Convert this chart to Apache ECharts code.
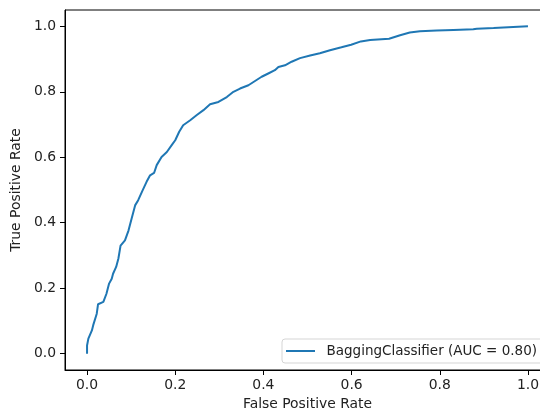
<!DOCTYPE html>
<html>
<head>
<meta charset="utf-8">
<script src="https://cdn.jsdelivr.net/npm/echarts@6/dist/echarts.min.js"></script>
<style>html,body{margin:0;padding:0;background:#fff}#c{width:540px;height:409px}</style>
</head>
<body>
<div id="c"></div>
<script>
const fpr = [0.000,0.000,0.003,0.011,0.014,0.022,0.025,0.037,0.044,0.050,0.056,0.059,0.066,0.071,0.076,0.086,0.094,0.101,0.109,0.116,0.126,0.135,0.143,0.152,0.158,0.169,0.181,0.192,0.200,0.209,0.218,0.234,0.249,0.264,0.279,0.298,0.317,0.332,0.347,0.366,0.381,0.396,0.411,0.426,0.434,0.449,0.464,0.483,0.506,0.528,0.551,0.577,0.599,0.621,0.642,0.685,0.710,0.732,0.755,0.793,0.831,0.876,0.884,0.922,1.000];
const tpr = [0.000,0.025,0.046,0.071,0.087,0.122,0.151,0.158,0.183,0.214,0.229,0.244,0.265,0.290,0.330,0.346,0.376,0.412,0.453,0.469,0.499,0.525,0.545,0.552,0.576,0.601,0.616,0.637,0.652,0.678,0.698,0.713,0.729,0.744,0.762,0.769,0.784,0.800,0.810,0.820,0.833,0.846,0.856,0.866,0.876,0.881,0.892,0.903,0.911,0.918,0.927,0.936,0.944,0.954,0.958,0.962,0.973,0.981,0.985,0.987,0.989,0.991,0.993,0.995,1.000];
const tickValues = [0.0,0.2,0.4,0.6,0.8,1.0];
const seriesName = 'BaggingClassifier (AUC = 0.80)';
const xLabel = 'False Positive Rate';
const yLabel = 'True Positive Rate';

const font = 'DejaVu Sans';
const fs = 13.9;
const chart = echarts.init(document.getElementById('c'), null, {renderer:'canvas'});
const axisCommon = {
  type:'value', min:-0.05, max:1.05,
  splitLine:{show:false},
  axisLine:{show:true, onZero:false, lineStyle:{color:'#000', width:1}},
  axisTick:{show:true, length:5, customValues:tickValues, lineStyle:{color:'#000'}},
  axisLabel:{customValues:tickValues, formatter:v=>v.toFixed(1), color:'#222', fontFamily:font, fontSize:fs},
  nameLocation:'middle',
  nameTextStyle:{color:'#222', fontFamily:font, fontSize:fs}
};
chart.setOption({
  animation:false,
  backgroundColor:'#fff',
  grid:{left:65, top:10, width:485, height:360, show:true, borderColor:'#000', borderWidth:1, containLabel:false, outerBoundsMode:'none'},
  xAxis:Object.assign({}, axisCommon, {name:xLabel, nameGap:26, axisLabel:Object.assign({}, axisCommon.axisLabel, {margin:8})}),
  yAxis:Object.assign({}, axisCommon, {name:yLabel, nameGap:37, axisLabel:Object.assign({}, axisCommon.axisLabel, {margin:9})}),
  legend:{
    left:282, top:339, orient:'horizontal',
    icon:'rect', itemWidth:29, itemHeight:2,
    padding:[5,6,5,4],
    borderColor:'#d5d5d5', borderWidth:1, borderRadius:3,
    backgroundColor:'rgba(255,255,255,0.8)',
    textStyle:{color:'#222', fontFamily:font, fontSize:13.5, padding:[0,0,0,6.5]},
    data:[seriesName]
  },
  series:[{
    name:seriesName, type:'line', showSymbol:false,
    lineStyle:{color:'#1f77b4', width:2}, itemStyle:{color:'#1f77b4'},
    data:fpr.map((x,i)=>[x,tpr[i]])
  }]
});
</script>
</body>
</html>
